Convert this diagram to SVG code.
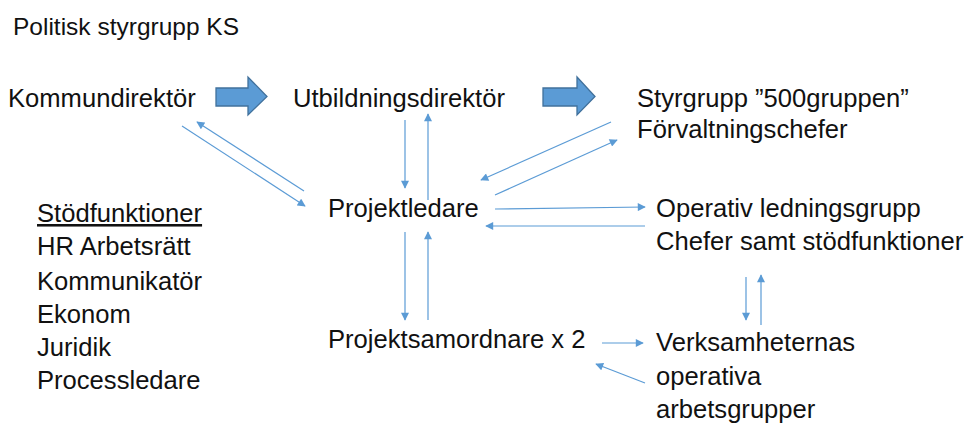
<svg xmlns="http://www.w3.org/2000/svg" width="965" height="426" viewBox="0 0 965 426">
<style>
text{font-family:"Liberation Sans",Arial,sans-serif;font-size:25.6px;fill:#111}
.c line{stroke:#5b9bd5;stroke-width:1.2;fill:none}
.blk{fill:#5b9bd5;stroke:#41719c;stroke-width:1.3}
</style>
<defs>
<marker id="ah" viewBox="0 0 10 10" refX="9" refY="5" markerWidth="9" markerHeight="8" markerUnits="userSpaceOnUse" orient="auto">
<path d="M0,0 L10,5 L0,10 z" fill="#5b9bd5"/>
</marker>
</defs>
<rect width="965" height="426" fill="#fff"/>
<g id="politisk"><text x="13" y="35" style="font-size:24.5px">Politisk styrgrupp KS</text></g>
<g id="kommundirektor"><text x="8" y="107">Kommundirektör</text></g>
<g id="utbildningsdirektor"><text x="293" y="107">Utbildningsdirektör</text></g>
<g id="styrgrupp"><text x="637" y="107">Styrgrupp ”500gruppen”</text><text x="637" y="138">Förvaltningschefer</text></g>
<g id="projektledare"><text x="328" y="217">Projektledare</text></g>
<g id="operativ"><text x="656" y="217">Operativ ledningsgrupp</text><text x="656" y="250">Chefer samt stödfunktioner</text></g>
<g id="projektsamordnare"><text x="328" y="348">Projektsamordnare x 2</text></g>
<g id="verksamheternas"><text x="656" y="351">Verksamheternas</text><text x="656" y="385">operativa</text><text x="656" y="418">arbetsgrupper</text></g>
<g id="stodfunktioner">
<text x="37" y="222" text-decoration="underline">Stödfunktioner</text>
<text x="37" y="255">HR Arbetsrätt</text>
<text x="37" y="290">Kommunikatör</text>
<text x="37" y="323">Ekonom</text>
<text x="37" y="356">Juridik</text>
<text x="37" y="389">Processledare</text>
</g>
<g id="connectors" class="c">
<path class="blk" d="M216,88 H248 V77 L267,96.5 L248,115 V106 H216 Z"/>
<path class="blk" d="M543,88 H577 V77 L595,96.5 L577,115 V106 H543 Z"/>
<line x1="182" y1="126" x2="305" y2="206" marker-end="url(#ah)"/>
<line x1="304" y1="191" x2="197" y2="122" marker-end="url(#ah)"/>
<line x1="405" y1="120" x2="405" y2="188" marker-end="url(#ah)"/>
<line x1="428" y1="200" x2="428" y2="114" marker-end="url(#ah)"/>
<line x1="611" y1="122" x2="481" y2="180" marker-end="url(#ah)"/>
<line x1="495" y1="195" x2="617" y2="140" marker-end="url(#ah)"/>
<line x1="495" y1="209" x2="645" y2="207" marker-end="url(#ah)"/>
<line x1="645" y1="226" x2="486" y2="226" marker-end="url(#ah)"/>
<line x1="405" y1="232" x2="405" y2="320" marker-end="url(#ah)"/>
<line x1="428" y1="320" x2="428" y2="232" marker-end="url(#ah)"/>
<line x1="602" y1="343" x2="643" y2="343" marker-end="url(#ah)"/>
<line x1="645" y1="383" x2="596" y2="364" marker-end="url(#ah)"/>
<line x1="746" y1="277" x2="746" y2="320" marker-end="url(#ah)"/>
<line x1="761" y1="325" x2="761" y2="275" marker-end="url(#ah)"/>
</g>
</svg>
